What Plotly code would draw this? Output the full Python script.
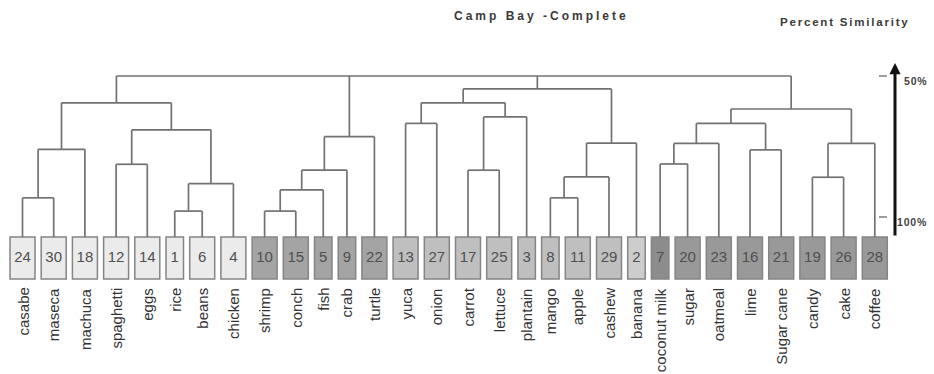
import plotly.graph_objects as go

# ---------------- data ----------------
leaf_ids = ["24", "30", "18", "12", "14", "1", "6", "4", "10", "15", "5", "9", "22",
            "13", "27", "17", "25", "3", "8", "11", "29", "2",
            "7", "20", "23", "16", "21", "19", "26", "28"]
leaf_names = ["casabe", "maseca", "machuca", "spaghetti", "eggs", "rice", "beans", "chicken",
              "shrimp", "conch", "fish", "crab", "turtle",
              "yuca", "onion", "carrot", "lettuce", "plantain", "mango", "apple", "cashew", "banana",
              "coconut milk", "sugar", "oatmeal", "lime", "Sugar cane", "candy", "cake", "coffee"]
leaf_groups = ["A"] * 8 + ["B"] * 5 + ["C"] * 8 + ["C2"] + ["D1"] + ["D"] * 7

merge_nodes = ["n1", "n2", "n3", "n4", "n5", "n6", "A",
               "n7", "n8", "n9", "B",
               "n10", "n11", "n12", "n13", "n14", "n15", "n16", "C",
               "n17", "n18", "n19", "n20", "n21", "n22", "D", "root"]
merge_children = [["24", "30"], ["n1", "18"], ["12", "14"], ["1", "6"], ["n4", "4"], ["n3", "n5"], ["n2", "n6"],
                  ["10", "15"], ["n7", "5"], ["n8", "9"], ["n9", "22"],
                  ["13", "27"], ["17", "25"], ["n11", "3"], ["n10", "n12"], ["8", "11"], ["n14", "29"],
                  ["n15", "2"], ["n13", "n16"],
                  ["7", "20"], ["n17", "23"], ["16", "21"], ["n18", "n19"], ["19", "26"], ["n21", "28"],
                  ["n20", "n22"], ["A", "B", "C", "D"]]
merge_similarity = [93.2, 76.0, 81.3, 97.9, 88.2, 69.1, 59.5,
                    97.9, 90.4, 83.4, 71.5,
                    66.8, 83.4, 64.5, 59.5, 93.2, 85.8, 73.8, 54.6,
                    81.2, 73.9, 76.2, 66.8, 85.9, 73.9, 61.7, 50.0]

axis_ticks = [50, 100]
axis_tick_labels = ["50%", "100%"]

title_text = "Camp Bay -Complete"
axis_title_text = "Percent Similarity"

# ---------------- layout helpers ----------------
W, H = 934, 374
PX_50, PX_100 = 76.0, 217.0


def sim_of_px(p):
    return 100 - (PX_100 - p) * 50 / (PX_100 - PX_50)


Y_TOP = sim_of_px(0)
Y_BOT = sim_of_px(H)
LEAF_TOP = sim_of_px(237)
BOX_BOT = sim_of_px(279)
BOX_MID = sim_of_px(258)
LABEL_TOP = sim_of_px(286)

group_fill = {"A": "#ebebeb", "B": "#a4a4a4", "C": "#bfbfbf", "C2": "#cdcdcd",
              "D1": "#8c8c8c", "D": "#999999"}
FONT = "Liberation Sans, Arial, sans-serif"
LINE_COLOR = "#727272"

# leaf x positions from box widths
GAP = 6.2
widths = [25 if (len(s) == 2 or s in ("4", "6")) else 17.5 for s in leaf_ids]
pos = {}
left = 10.0
for s, w in zip(leaf_ids, widths):
    pos[s] = left + w / 2
    left += w + GAP

height = {s: LEAF_TOP for s in leaf_ids}

lx, ly = [], []
for node, kids, sim in zip(merge_nodes, merge_children, merge_similarity):
    xs = [pos[k] for k in kids]
    for k in kids:
        lx += [pos[k], pos[k], None]
        ly += [height[k], sim, None]
    lx += [min(xs), max(xs), None]
    ly += [sim, sim, None]
    pos[node] = (min(xs) + max(xs)) / 2 if len(kids) == 2 else xs[0]
    height[node] = sim

fig = go.Figure()

fig.add_trace(go.Scatter(x=lx, y=ly, mode="lines",
                         line=dict(color=LINE_COLOR, width=1.7),
                         hoverinfo="skip", showlegend=False))

# boxes
shapes = []
for s, w, g in zip(leaf_ids, widths, leaf_groups):
    cx = pos[s]
    shapes.append(dict(type="rect", xref="x", yref="y",
                       x0=cx - w / 2, x1=cx + w / 2, y0=LEAF_TOP, y1=BOX_BOT,
                       fillcolor=group_fill[g], line=dict(color="#858585", width=1.5),
                       layer="below"))

fig.add_trace(go.Scatter(x=[pos[s] for s in leaf_ids], y=[BOX_MID] * len(leaf_ids),
                         mode="text", text=leaf_ids,
                         textfont=dict(family=FONT, size=15, color="#505050"),
                         hoverinfo="skip", showlegend=False))

# axis ticks
tx, ty = [], []
for t in axis_ticks:
    tx += [879, 887, None]
    ty += [t, t, None]
fig.add_trace(go.Scatter(x=tx, y=ty, mode="lines", line=dict(color="#666666", width=1.3),
                         hoverinfo="skip", showlegend=False))

annotations = []
for s, name in zip(leaf_ids, leaf_names):
    annotations.append(dict(x=pos[s], y=LABEL_TOP, xref="x", yref="y", text=name,
                            textangle=-90, xanchor="center", yanchor="top", showarrow=False,
                            font=dict(family=FONT, size=15, color="#333333")))

for t, lab in zip(axis_ticks, axis_tick_labels):
    annotations.append(dict(x=929, y=t, xref="x", yref="y", yshift=-5,
                            text='<span style="letter-spacing:0.8px"><b>' + lab + '</b></span>',
                            xanchor="right", yanchor="middle", showarrow=False,
                            font=dict(family=FONT, size=10.5, color="#444444")))

annotations.append(dict(x=895, y=sim_of_px(63), ax=895, ay=LEAF_TOP, xref="x", yref="y",
                        axref="x", ayref="y", text="", showarrow=True, arrowhead=2,
                        arrowsize=0.75, arrowwidth=3, arrowcolor="#111111"))

annotations.append(dict(x=541, y=1 - 16 / H, xref="x", yref="paper",
                        text='<span style="letter-spacing:3px"><b>' + title_text + '</b></span>',
                        xanchor="center", yanchor="middle", showarrow=False,
                        font=dict(family=FONT, size=12, color="#3a3a3a")))
annotations.append(dict(x=844.5, y=1 - 22 / H, xref="x", yref="paper",
                        text='<span style="letter-spacing:1.8px"><b>' + axis_title_text + '</b></span>',
                        xanchor="center", yanchor="middle", showarrow=False,
                        font=dict(family=FONT, size=11.5, color="#3a3a3a")))

fig.update_layout(
    width=W, height=H, margin=dict(l=0, r=0, t=0, b=0),
    paper_bgcolor="white", plot_bgcolor="white",
    shapes=shapes, annotations=annotations,
    xaxis=dict(range=[0, W], visible=False, fixedrange=True),
    yaxis=dict(range=[Y_BOT, Y_TOP], visible=False, fixedrange=True),
)

fig.write_html("out.html")
